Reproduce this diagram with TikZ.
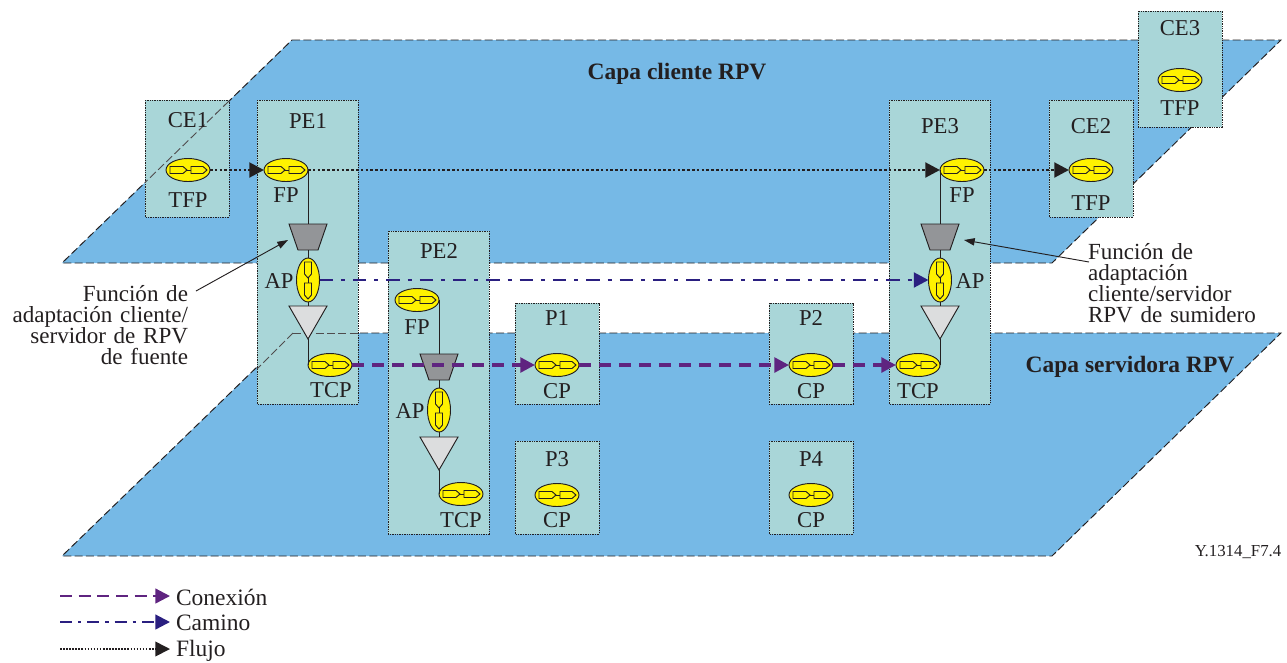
\documentclass[tikz,border=0pt]{standalone}
\usepackage{fontspec}
\setmainfont{Liberation Serif}
\usetikzlibrary{arrows.meta,calc}
\definecolor{planeblue}{HTML}{76B9E6}
\definecolor{boxteal}{HTML}{A9D6D8}
\definecolor{conpurple}{HTML}{5F2480}
\definecolor{pathblue}{HTML}{2A1F80}
\definecolor{ink}{HTML}{231F20}
\definecolor{yel}{HTML}{FFF200}
\definecolor{trapgray}{HTML}{939598}
\definecolor{trigray}{HTML}{DCDDDE}
\tikzset{
 x=0.75pt,y=-0.75pt,
 every node/.style={font=\fontsize{17}{16}\selectfont,text=ink,inner sep=0pt,outer sep=0pt},
 plane/.style={fill=planeblue,draw=ink,line width=0.7pt,dash pattern=on 6pt off 2.5pt},
 planeedge/.style={draw=ink!80,line width=0.7pt,dash pattern=on 6pt off 2.5pt},
 boxline/.style={draw=ink,line width=0.6pt,dash pattern=on 1pt off 0.8pt},
 wire/.style={draw=ink,line width=0.7pt},
 flujo/.style={draw=ink,line width=2.2pt,dash pattern=on 2pt off 1.6pt,-{Triangle[length=11pt,width=11pt,fill=ink]}},
 camino/.style={draw=pathblue,line width=2.2pt,dash pattern=on 10pt off 6pt on 3pt off 6pt,-{Triangle[length=11pt,width=11pt,fill=pathblue]}},
 conex/.style={draw=conpurple,line width=2.6pt,dash pattern=on 9pt off 6pt,-{Triangle[length=11pt,width=11pt,fill=conpurple]}},
 legflujo/.style={draw=ink,line width=1.3pt,dash pattern=on 1.2pt off 1.1pt,-{Triangle[length=11pt,width=11pt,fill=ink]}},
 legcamino/.style={draw=pathblue,line width=1.7pt,dash pattern=on 9pt off 4.5pt on 2.5pt off 4.5pt,-{Triangle[length=11pt,width=11pt,fill=pathblue]}},
 legconex/.style={draw=conpurple,line width=1.8pt,dash pattern=on 9pt off 5pt,-{Triangle[length=11pt,width=11pt,fill=conpurple]}},
 lead/.style={draw=ink,line width=0.7pt,-{Triangle[length=8pt,width=5.5pt,fill=ink]}},
 small/.style={font=\fontsize{12.6}{14}\selectfont},
 titlelabel/.style={font=\fontsize{17.6}{18}\selectfont\bfseries},
}
\newcommand{\hport}[3]{%
 \fill[yel,draw=ink,line width=0.7pt] (#2,#3) ellipse [x radius=22,y radius=11.5];
 \coordinate (#1) at (#2,#3);
 \coordinate (#1w) at (#2-22,#3);
 \coordinate (#1e) at (#2+22,#3);
 \draw[ink,line width=0.7pt] (#2-18,#3-3.5) -- (#2-5,#3-3.5) -- (#2-1,#3) -- (#2-5,#3+3.5) -- (#2-18,#3+3.5) -- cycle;
 \draw[ink,line width=0.7pt] (#2+3,#3-3.5) -- (#2+15,#3-3.5) -- (#2+19,#3) -- (#2+15,#3+3.5) -- (#2+3,#3+3.5) -- cycle;
 \draw[ink,line width=0.7pt] (#2-1,#3) -- (#2+3,#3);
}
\newcommand{\vport}[3]{%
 \fill[yel,draw=ink,line width=0.7pt] (#2,#3) ellipse [x radius=11.5,y radius=22];
 \coordinate (#1) at (#2,#3);
 \coordinate (#1n) at (#2,#3-22);
 \coordinate (#1s) at (#2,#3+22);
 \coordinate (#1e) at (#2+11.5,#3);
 \coordinate (#1w) at (#2-11.5,#3);
 \draw[ink,line width=0.7pt] (#2-3.5,#3-18) -- (#2+3.5,#3-18) -- (#2+3.5,#3-6) -- (#2,#3-2) -- (#2-3.5,#3-6) -- cycle;
 \draw[ink,line width=0.7pt] (#2-3.5,#3+3) -- (#2+3.5,#3+3) -- (#2+3.5,#3+15) -- (#2,#3+19) -- (#2-3.5,#3+15) -- cycle;
 \draw[ink,line width=0.7pt] (#2,#3-2) -- (#2,#3+3);
}
\newcommand{\trap}[3]{%
 \draw[fill=trapgray,draw=ink,line width=0.7pt] (#2-19,#3) -- (#2+19,#3) -- (#2+10,#3+26) -- (#2-10,#3+26) -- cycle;
 \coordinate (#1n) at (#2,#3); \coordinate (#1s) at (#2,#3+26);
}
\newcommand{\tri}[3]{%
 \draw[fill=trigray,draw=ink,line width=0.7pt] (#2-19,#3) -- (#2+19,#3) -- (#2,#3+33) -- cycle;
 \coordinate (#1n) at (#2,#3); \coordinate (#1s) at (#2,#3+33);
}
\newcommand{\nebox}[5]{%
 \fill[boxteal] (#2,#3) rectangle (#4,#5);
 \path[boxline] (#2,#3) rectangle (#4,#5);
 \coordinate (#1) at ($(#2,#3)!.5!(#4,#5)$);
}
\begin{document}
\begin{tikzpicture}
\useasboundingbox (0,0) rectangle (1287,662);
% planes
\path[plane] (292,40) -- (1281,40) -- (1052,263) -- (62,263) -- cycle;
\path[plane] (292,333) -- (1281,333) -- (1052,556) -- (62,556) -- cycle;
\node[titlelabel] (tCliente) at (677,74) {Capa cliente RPV};
\node[titlelabel] (tServidora) at (1130,367) {Capa servidora RPV};
% boxes
\nebox{ce1}{145}{100}{229}{217}
\nebox{pe1}{257}{100}{358}{404}
\nebox{pe2}{388}{231}{489}{534}
\nebox{p1}{515}{303}{599}{404}
\nebox{p3}{515}{441}{599}{534}
\nebox{p2}{769}{303}{853}{404}
\nebox{p4}{769}{441}{853}{534}
\nebox{pe3}{889}{100}{990}{404}
\nebox{ce2}{1049}{100}{1133}{217}
\nebox{ce3}{1138}{11}{1222}{127}
% plane edges that show over the boxes
\draw[planeedge] (229,101) -- (145,182.5);
\draw[planeedge] (293,333) -- (358,333);
\draw[planeedge] (293,333) -- (257,369);
% titles
\node (lce1) at (188,120) {CE1};
\node (lpe1) at (308,121) {PE1};
\node (lpe2) at (439,251) {PE2};
\node (lp1) at (557,318) {P1};
\node (lp2) at (811,318) {P2};
\node (lp3) at (557,459) {P3};
\node (lp4) at (811,459) {P4};
\node (lpe3) at (940,126) {PE3};
\node (lce2) at (1091,126) {CE2};
\node (lce3) at (1180,28) {CE3};
% PE1 wiring
\hport{ce1p}{188}{170}
\hport{pe1f}{286}{170}
\trap{pe1t}{308}{224}
\vport{pe1a}{308}{280}
\tri{pe1v}{308}{306}
\hport{pe1c}{330}{365}
\draw[wire] (pe1fe) -- (308,170) -- (pe1tn);
\draw[wire] (pe1ts) -- (pe1an);
\draw[wire] (pe1as) -- (pe1vn);
\draw[wire] (pe1vs) -- (308,365);
% PE2
\hport{pe2f}{417}{300}
\trap{pe2t}{439}{354}
\vport{pe2a}{439}{410}
\tri{pe2v}{439}{437}
\hport{pe2c}{461}{494}
\draw[wire] (pe2fe) -- (439,300) -- (pe2tn);
\draw[wire] (pe2ts) -- (pe2an);
\draw[wire] (pe2as) -- (pe2vn);
\draw[wire] (pe2vs) -- (439,494);
% PE3
\hport{pe3f}{962}{170}
\trap{pe3t}{940}{224}
\vport{pe3a}{940}{280}
\tri{pe3v}{940}{306}
\hport{pe3c}{918}{365}
\draw[wire] (pe3fw) -- (940,170) -- (pe3tn);
\draw[wire] (pe3ts) -- (pe3an);
\draw[wire] (pe3as) -- (pe3vn);
\draw[wire] (pe3vs) -- (940,365);
% others
\hport{p1c}{557}{365}
\hport{p3c}{557}{495}
\hport{p2c}{811}{365}
\hport{p4c}{811}{495}
\hport{ce2p}{1091}{170}
\hport{ce3p}{1180}{80}
% port labels
\node (n1) at (188,200) {TFP};
\node (n2) at (286,195) {FP};
\node (n3) at (279,281) {AP};
\node (n4) at (331,390) {TCP};
\node (n5) at (417,327) {FP};
\node (n6) at (410,411) {AP};
\node (n7) at (461,520) {TCP};
\node (n8) at (557,391) {CP};
\node (n9) at (557,520) {CP};
\node (n10) at (811,391) {CP};
\node (n11) at (811,520) {CP};
\node (n12) at (962,195) {FP};
\node (n13) at (970,281) {AP};
\node (n14) at (918,391) {TCP};
\node (n15) at (1091,203) {TFP};
\node (n16) at (1180,108) {TFP};
% flows
\draw[flujo] (ce1pe) -- (pe1fw);
\draw[flujo] (pe1fe) -- (pe3fw);
\draw[flujo] (pe3fe) -- (ce2pw);
\draw[camino] (pe1ae) -- (pe3aw);
\draw[conex] (pe1ce) -- (p1cw);
\draw[conex] (p1ce) -- (p2cw);
\draw[conex] (p2ce) -- (pe3cw);
% annotations
\node[align=right,anchor=north east,text width=230pt,font=\fontsize{17.3}{15.9}\selectfont] (aL) at (188,285) {Función de\\adaptación cliente/\\servidor de RPV\\de fuente};
\node[align=left,anchor=north west,text width=230pt,font=\fontsize{17.3}{15.9}\selectfont] (aR) at (1088,243) {Función de\\adaptación\\cliente/servidor\\RPV de sumidero};
\coordinate (aLs) at (196,291);
\coordinate (aRs) at (1089,262);
\coordinate (aLt) at (288,240);
\coordinate (aRt) at (964,240);
\draw[lead] (aLs) -- (aLt);
\draw[lead] (aRs) -- (aRt);
\node[small] (fig) at (1238,552) {Y.1314\_F7.4};
% legend
\coordinate (c1a) at (60,596); \coordinate (c1b) at (170,596);
\coordinate (c2a) at (60,622); \coordinate (c2b) at (170,622);
\coordinate (c3a) at (60,649); \coordinate (c3b) at (170,649);
\draw[legconex] (c1a) -- (c1b);
\draw[legcamino] (c2a) -- (c2b);
\draw[legflujo] (c3a) -- (c3b);
\node[anchor=west,font=\fontsize{17.6}{16}\selectfont] (l1) at (176,597) {Conexión};
\node[anchor=west,font=\fontsize{17.6}{16}\selectfont] (l2) at (176,623) {Camino};
\node[anchor=west,font=\fontsize{17.6}{16}\selectfont] (l3) at (176,651) {Flujo};
\end{tikzpicture}
\end{document}
